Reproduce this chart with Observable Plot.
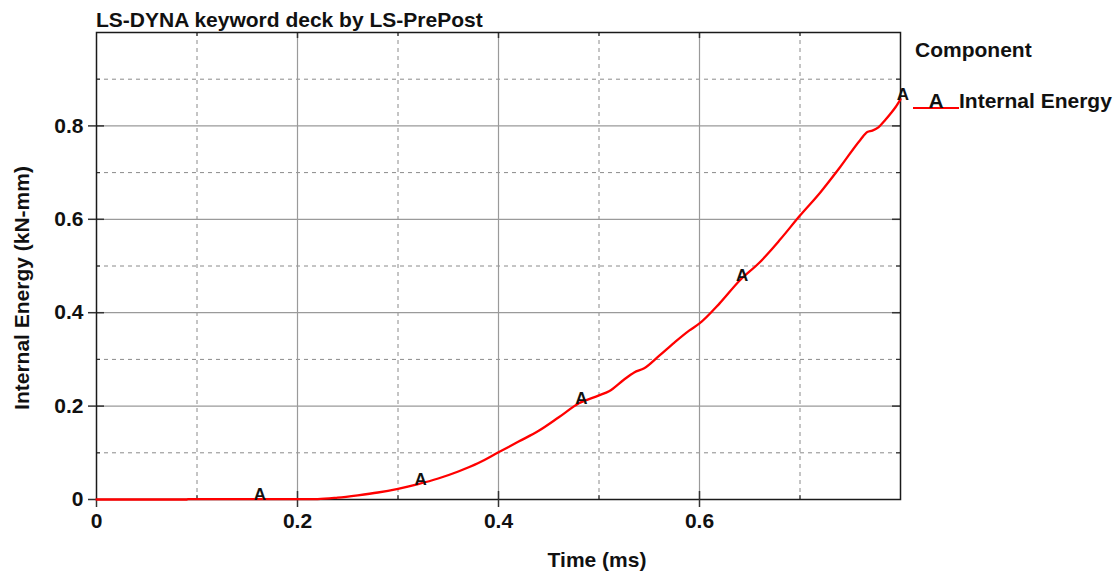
<!DOCTYPE html>
<html>
<head>
<meta charset="utf-8">
<script src="https://cdn.jsdelivr.net/npm/d3@7"></script>
<script src="https://cdn.jsdelivr.net/npm/@observablehq/plot@0.6"></script>
<style>
  body { margin: 0; background: #fff; }
  #chart {
    position: relative; width: 1120px; height: 575px;
    font-family: "Liberation Sans", Arial, sans-serif; font-weight: bold; color: #111;
  }
  #chart svg { position: absolute; left: 0; top: 0; }
  .lbl { position: absolute; font-size: 21px; line-height: 21px; white-space: nowrap; }
  .swatch { position: absolute; height: 2px; background: #ff0000; }
</style>
</head>
<body>
<div id="chart">
  <div class="lbl" style="left:96px; top:9px;">LS-DYNA keyword deck by LS-PrePost</div>
  <div class="lbl" style="left:597px; top:549px; transform:translateX(-50%);">Time (ms)</div>
  <div class="lbl" style="left:21px; top:287.5px; transform:translate(-50%,-50%) rotate(-90deg);">Internal Energy (kN-mm)</div>
  <div class="lbl" style="left:915px; top:39px;">Component</div>
  <div class="swatch" style="left:913px; top:107px; width:46px;"></div>
  <div class="lbl" style="left:936px; top:89.5px; transform:translateX(-50%);">A</div>
  <div class="lbl" style="left:959px; top:89.5px;">Internal Energy</div>
</div>
<script>
// Internal energy history (time in ms, energy in kN-mm)
const timeMs = [0, 0.09, 0.091, 0.16, 0.22, 0.24, 0.26, 0.28, 0.30, 0.32, 0.34, 0.36, 0.38, 0.40,
  0.42, 0.44, 0.46, 0.48, 0.50, 0.51, 0.525, 0.535, 0.545, 0.56, 0.575, 0.59, 0.60, 0.62, 0.64,
  0.66, 0.68, 0.70, 0.72, 0.74, 0.76, 0.767, 0.772, 0.778, 0.785, 0.79, 0.795, 0.80];
const internalEnergy = [0, 0, 0.001, 0.001, 0.001, 0.004, 0.009, 0.015, 0.023, 0.033, 0.045, 0.060,
  0.078, 0.101, 0.124, 0.147, 0.176, 0.206, 0.223, 0.232, 0.257, 0.272, 0.281, 0.308, 0.336, 0.362,
  0.377, 0.420, 0.469, 0.508, 0.556, 0.608, 0.657, 0.712, 0.770, 0.787, 0.790, 0.797, 0.813, 0.826,
  0.840, 0.857];

// Curve identifier symbols are drawn at these times
const markerTimes = [0.16, 0.32, 0.48, 0.64, 0.80];
const markerSymbol = "A";

const xTickValues = [0, 0.2, 0.4, 0.6];
const yTickValues = [0, 0.2, 0.4, 0.6, 0.8];
const xMajorGrid = [0.2, 0.4, 0.6];
const yMajorGrid = [0.2, 0.4, 0.6, 0.8];
const xMinorGrid = [0.1, 0.3, 0.5, 0.7];
const yMinorGrid = [0.1, 0.3, 0.5, 0.7, 0.9];

const series = timeMs.map((t, i) => ({t, e: internalEnergy[i]}));
const markers = series.filter(d => markerTimes.includes(d.t));

const W = 1120, H = 575;
const mL = 96, mR = 220, mT = 32, mB = 76;
const innerW = W - mL - mR, innerH = H - mT - mB;
const tickInk = "#333";

const chart = Plot.plot({
  width: W, height: H,
  marginLeft: mL, marginRight: mR, marginTop: mT, marginBottom: mB,
  style: {fontFamily: "Liberation Sans, Arial, sans-serif", fontSize: "21px", fontWeight: "bold", color: "#111", background: "transparent"},
  x: {domain: [0, 0.8]},
  y: {domain: [0, 1.0]},
  marks: [
    // dashed minor grid
    Plot.gridX(xMinorGrid, {stroke: "#8a8a8a", strokeOpacity: 1, strokeDasharray: "4,4", strokeWidth: 1}),
    Plot.gridY(yMinorGrid, {stroke: "#8a8a8a", strokeOpacity: 1, strokeDasharray: "4,4", strokeWidth: 1}),
    // solid major grid
    Plot.gridX(xMajorGrid, {stroke: "#9a9a9a", strokeOpacity: 1, strokeWidth: 1.2}),
    Plot.gridY(yMajorGrid, {stroke: "#9a9a9a", strokeOpacity: 1, strokeWidth: 1.2}),
    // inward tick marks on all four sides
    Plot.tickX(xMajorGrid, {x: d => d, insetTop: innerH - 8, stroke: tickInk, strokeWidth: 1.5}),
    Plot.tickX(xMajorGrid, {x: d => d, insetBottom: innerH - 6, stroke: tickInk, strokeWidth: 1.5}),
    Plot.tickX(xMinorGrid, {x: d => d, insetTop: innerH - 4, stroke: tickInk, strokeWidth: 1.2}),
    Plot.tickX(xMinorGrid, {x: d => d, insetBottom: innerH - 4, stroke: tickInk, strokeWidth: 1.2}),
    Plot.tickY(yMajorGrid, {y: d => d, insetRight: innerW - 8, stroke: tickInk, strokeWidth: 1.5}),
    Plot.tickY(yMajorGrid, {y: d => d, insetLeft: innerW - 8, stroke: tickInk, strokeWidth: 1.5}),
    Plot.tickY(yMinorGrid, {y: d => d, insetRight: innerW - 4, stroke: tickInk, strokeWidth: 1.2}),
    Plot.tickY(yMinorGrid, {y: d => d, insetLeft: innerW - 4, stroke: tickInk, strokeWidth: 1.2}),
    Plot.frame({stroke: "#1a1a1a", strokeWidth: 1.5}),
    Plot.axisX({ticks: xTickValues, tickFormat: d => String(d), tickSize: 8, tickPadding: 6,
      stroke: tickInk, strokeWidth: 1.5, label: null, fill: "#111"}),
    Plot.axisY({ticks: yTickValues, tickFormat: d => String(d), tickSize: 8, tickPadding: 5,
      stroke: tickInk, strokeWidth: 1.5, label: null, fill: "#111"}),
    Plot.line(series, {x: "t", y: "e", stroke: "#ff0000", strokeWidth: 2.3, curve: "monotone-x"}),
    Plot.text(markers, {x: "t", y: "e", text: () => markerSymbol, dx: 2.5, dy: 1,
      lineAnchor: "bottom", textAnchor: "middle", fontSize: 17, fontWeight: "bold", fill: "#111"})
  ]
});
document.getElementById("chart").prepend(chart);
</script>
</body>
</html>
